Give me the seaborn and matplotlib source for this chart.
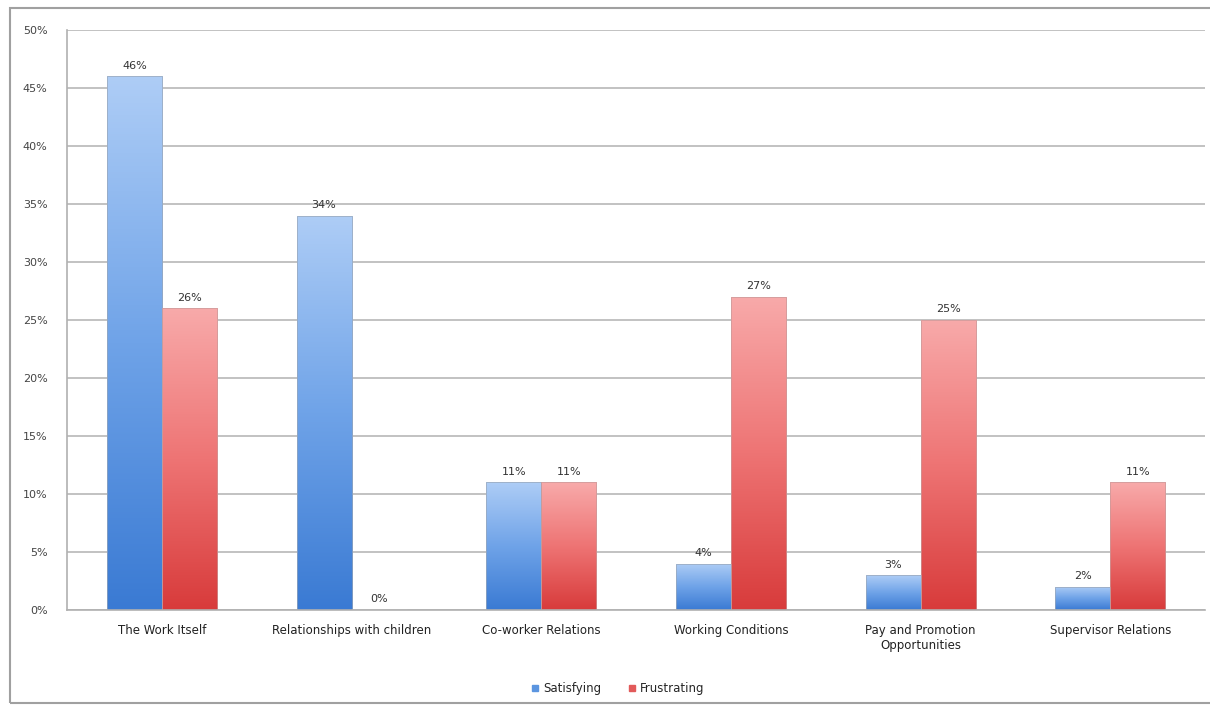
import numpy as np
import pandas as pd
import matplotlib
matplotlib.use("Agg")
import matplotlib.pyplot as plt
from matplotlib.colors import LinearSegmentedColormap
from matplotlib.patches import Rectangle
from matplotlib.lines import Line2D
import seaborn as sns

# data
categories = ["The Work Itself", "Relationships with children", "Co-worker Relations",
              "Working Conditions", "Pay and Promotion\nOpportunities", "Supervisor Relations"]
satisfying = [46, 34, 11, 4, 3, 2]
frustrating = [26, 0, 11, 27, 25, 11]
series = ["Satisfying", "Frustrating"]

df = pd.DataFrame({
    "category": categories * 2,
    "value": satisfying + frustrating,
    "series": [series[0]] * len(categories) + [series[1]] * len(categories),
})

sns.set_style("white")
plt.rcParams["font.family"] = ["DejaVu Sans"]

fig = plt.figure(figsize=(12.1, 7.11), dpi=100)
ax = fig.add_axes([0.0554, 0.142, 0.9406, 0.816])

palette = {"Satisfying": "#5b95e0", "Frustrating": "#e25a5a"}
sns.barplot(data=df, x="category", y="value", hue="series", palette=palette,
            width=0.58, ax=ax, legend=False, saturation=1)

# vertical gradient fill, dark at the base and light at the top
grads = {
    "Satisfying": LinearSegmentedColormap.from_list("b", ["#3a7ad3", "#6fa3e8", "#aecdf6"]),
    "Frustrating": LinearSegmentedColormap.from_list("r", ["#d83b3b", "#ee7474", "#f8aaaa"]),
}
grad = np.linspace(0, 1, 256).reshape(-1, 1)
for cont, name in zip(ax.containers, series):
    for bar in cont:
        h = bar.get_height()
        if h <= 0:
            continue
        x0 = bar.get_x()
        w = bar.get_width()
        bar.set_facecolor("none")
        bar.set_edgecolor("#9aa7b8" if name == "Satisfying" else "#c99a9a")
        bar.set_linewidth(0.5)
        im = ax.imshow(grad, cmap=grads[name], aspect="auto", origin="lower",
                       extent=[x0, x0 + w, 0, h], zorder=bar.get_zorder() - 0.1)
        im.set_clip_path(bar)
    vals = [int(round(b.get_height())) for b in cont]
    ax.bar_label(cont, labels=[f"{v}%" for v in vals], padding=4,
                 fontsize=8, color="#333333")

ax.set_xlim(-0.5, len(categories) - 0.5)
ax.set_ylim(0, 50)
ax.set_yticks(np.arange(0, 51, 5))
ax.set_yticklabels([f"{v}%" for v in range(0, 51, 5)])
ax.yaxis.grid(True, color="#b8b8b8", linewidth=1.2)
ax.set_axisbelow(True)
ax.set_xlabel("")
ax.set_ylabel("")
ax.tick_params(axis="x", labelsize=8.5, colors="#222222", length=0, pad=10)
ax.tick_params(axis="y", labelsize=8, colors="#444444", length=0, pad=14)
for s in ["top", "right"]:
    ax.spines[s].set_visible(False)
for s in ["left", "bottom"]:
    ax.spines[s].set_color("#b0b0b0")
    ax.spines[s].set_linewidth(1.2)

handles = [Line2D([0], [0], marker="s", linestyle="", markersize=5,
                  markerfacecolor=palette[s], markeredgecolor=palette[s]) for s in series]
fig.legend(handles, series, loc="center", bbox_to_anchor=(0.51, 0.032), ncol=2,
           frameon=False, fontsize=8.5, handletextpad=0.3, columnspacing=2.2,
           handlelength=0.8)

# outer chart frame
fig.patches.append(Rectangle((0.008, 0.011), 1.5, 0.978, transform=fig.transFigure,
                             fill=False, edgecolor="#a0a0a0", linewidth=1.5))

fig.savefig("out.png", dpi=100)
